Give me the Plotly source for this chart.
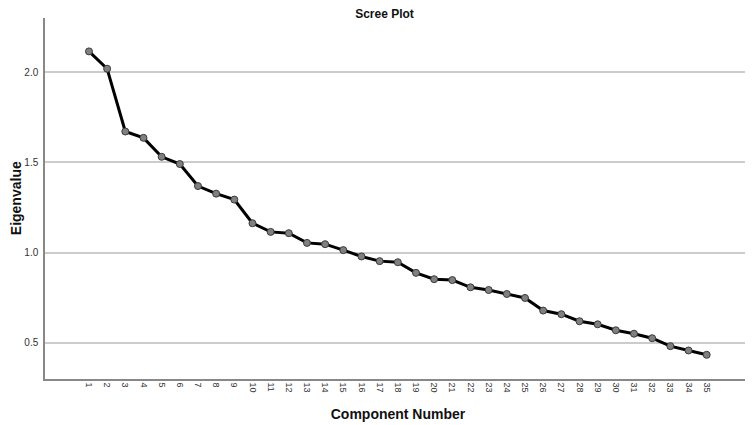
import plotly.graph_objects as go

# scree plot: eigenvalue per component
components = [str(i) for i in range(1, 36)]
eigenvalues = [
    2.115, 2.019, 1.671, 1.636, 1.531, 1.491, 1.369, 1.327, 1.294, 1.163,
    1.115, 1.108, 1.054, 1.047, 1.014, 0.979, 0.953, 0.947, 0.888, 0.853,
    0.848, 0.808, 0.793, 0.771, 0.749, 0.679, 0.659, 0.620, 0.603, 0.570,
    0.551, 0.526, 0.482, 0.458, 0.434,
]
y_ticks = [0.5, 1.0, 1.5, 2.0]

fig = go.Figure(go.Scatter(
    x=components, y=eigenvalues,
    mode="lines+markers",
    line=dict(color="#000000", width=3),
    marker=dict(size=7, color="#808080", line=dict(color="#3a3a3a", width=1)),
))

# page body adds ~8px offset, margins compensate for it
fig.update_layout(
    width=753, height=425,
    paper_bgcolor="white", plot_bgcolor="white",
    margin=dict(l=37, r=10, t=10, b=54, pad=0),
    showlegend=False,
    font=dict(family="Liberation Sans, Arial, sans-serif", color="#222222"),
    title=dict(text="<b>Scree Plot</b>", x=0.5, xanchor="center",
               y=1.0, yanchor="top", pad=dict(t=2, b=0),
               font=dict(size=12, color="#111111")),
)
# y title as an annotation so it can sit close to the left edge
fig.add_annotation(
    text="<b>Eigenvalue</b>", textangle=-90, showarrow=False,
    xref="paper", yref="paper", x=-0.0415, y=0.5,
    xanchor="center", yanchor="middle",
    font=dict(size=14, color="#111111"),
)
fig.update_xaxes(
    type="category", range=[-2.42, 36.44],
    tickangle=90, tickfont=dict(size=9, color="#333333"),
    showgrid=False, zeroline=False,
    showline=True, linecolor="#888888", linewidth=1.5,
    ticks="", automargin=False,
    title=dict(text="<b>Component Number</b>", font=dict(size=14, color="#111111"), standoff=18),
)
fig.update_yaxes(
    range=[0.3, 2.3], tickvals=y_ticks, ticktext=["0.5", "1.0", "1.5", "2.0"],
    tickfont=dict(size=10, color="#333333"), ticklabelstandoff=3,
    showgrid=True, gridcolor="#cccccc", gridwidth=1.5, zeroline=False,
    showline=True, linecolor="#888888", linewidth=1.5,
    ticks="", automargin=False,
)

fig.write_html("out.html")
